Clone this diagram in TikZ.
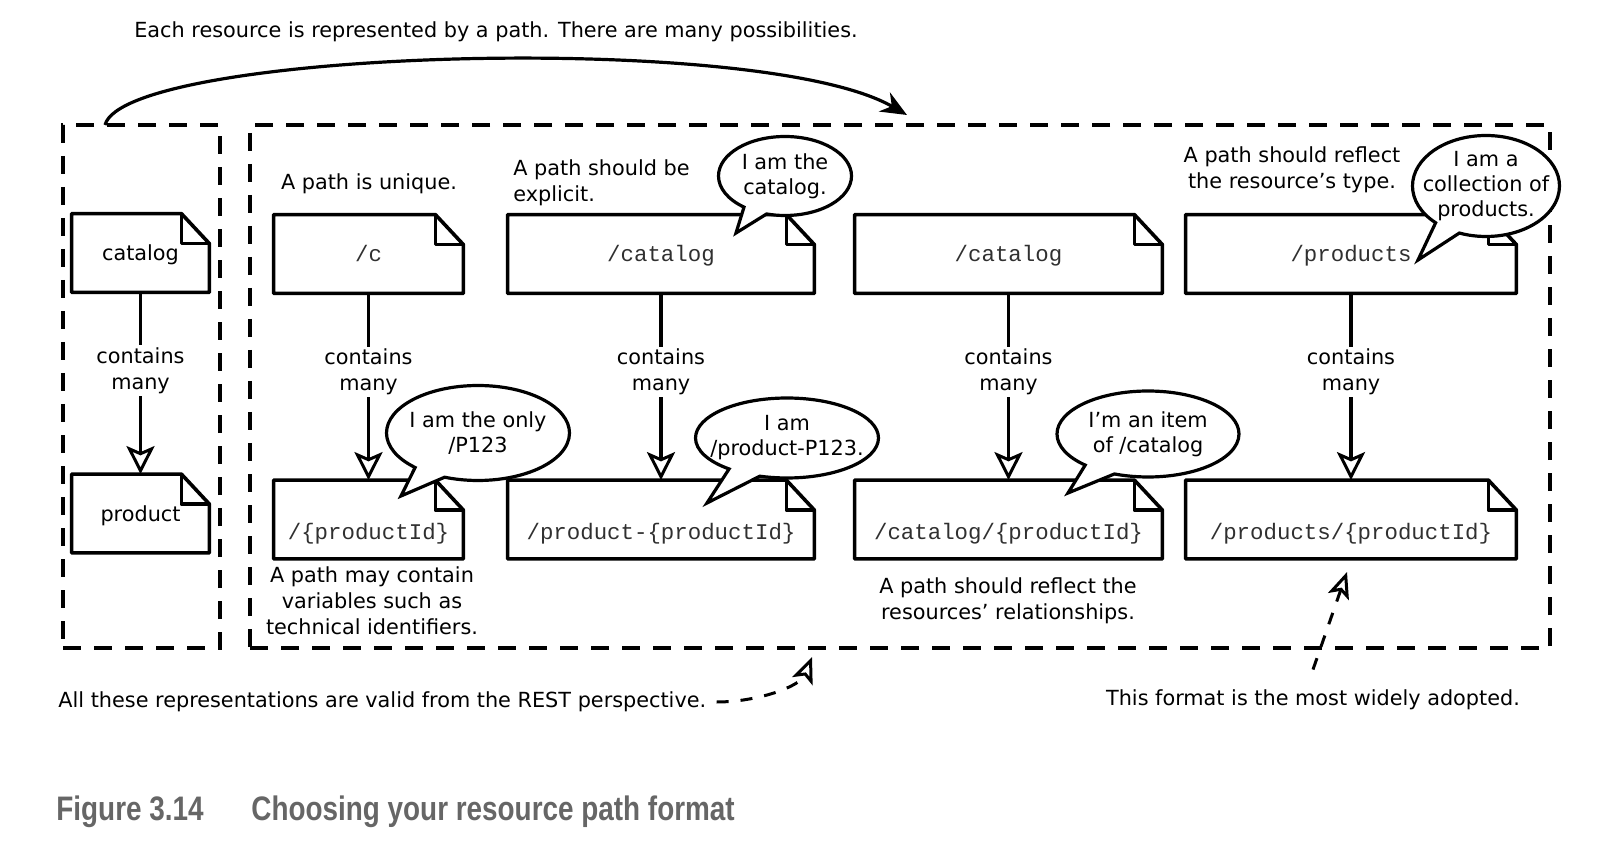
\documentclass[tikz,border=0pt]{standalone}
\usepackage{fontspec}
\setmainfont{DejaVu Sans}
\newfontfamily\urifont{Liberation Mono}
\newfontfamily\capfont[FakeStretch=0.82]{Liberation Sans}
\usetikzlibrary{arrows.meta}
\usetikzlibrary{shapes.callouts}
\definecolor{urigray}{HTML}{303030}
\definecolor{capgray}{HTML}{666666}

\begin{document}
\begin{tikzpicture}[x=0.5pt,y=-0.5pt,
  note/.style={font=\fontsize{10.4}{13}\selectfont, align=center, inner sep=1pt},
  doc/.style={minimum height=39pt, inner sep=0pt, text height=10pt, text depth=2pt},
  doclow/.style={doc, text height=22pt},
  uri/.style={font=\urifont\fontsize{11.2}{13}\selectfont, text=urigray},
  docline/.style={line width=1.8pt, line join=round},
  frame/.style={draw, line width=1.7pt, dash pattern=on 9pt off 6.5pt, minimum height=261.5pt, inner sep=0pt, outer sep=0pt},
  many/.style={line width=1.6pt, -{Stealth[open, length=14pt, width=14pt, inset=3pt, line width=1.5pt]}},
  bubble/.style={ellipse callout, draw, fill=white, line width=1.6pt, font=\fontsize{10.4}{12.5}\selectfont, align=center, inner xsep=-6pt, inner ysep=0pt, callout pointer arc=22},
  hint/.style={line width=1.5pt, dash pattern=on 6pt off 6pt, -{Stealth[open, length=13pt, width=11pt, inset=3pt, line width=1.5pt]}},
  bigarc/.style={line width=1.6pt, -{Stealth[length=13pt, width=11pt]}},
  caption/.style={anchor=base west, inner sep=0pt, font=\capfont\bfseries\fontsize{17}{20}\selectfont, text=capgray},
]
  \useasboundingbox (0,0) rectangle (1602,850);

  \node[note] (heading) at (496,32) {Each resource is represented by a path. There are many possibilities.};

  \node[frame, minimum width=78.5pt] (leftframe) at (141.5,386.5) {};
  \node[frame, minimum width=650pt] (rightframe) at (900,386.5) {};

  \node[doc, note, minimum width=68.5pt] (cat) at (140.5,253) {catalog};
  \node[doc, note, minimum width=68.5pt] (prod) at (140.5,513.5) {product};

  \node[doc, uri, minimum width=94.5pt] (c1) at (368.5,254) {/c};
  \node[doc, uri, minimum width=153pt] (c2) at (661,254) {/catalog};
  \node[doc, uri, minimum width=153.5pt] (c3) at (1008.5,254) {/catalog};
  \node[doc, uri, minimum width=165pt] (c4) at (1351,254) {/products};

  \node[doclow, uri, minimum width=94.5pt] (p1) at (368.5,519.5) {/\{productId\}};
  \node[doclow, uri, minimum width=153pt] (p2) at (661,519.5) {/product-\{productId\}};
  \node[doclow, uri, minimum width=153.5pt] (p3) at (1008.5,519.5) {/catalog/\{productId\}};
  \node[doclow, uri, minimum width=165pt] (p4) at (1351,519.5) {/products/\{productId\}};

  \foreach \d in {cat,prod,c1,c2,c3,c4,p1,p2,p3,p4}{
    \draw[docline] (\d.north west) -- ([xshift=-14pt]\d.north east) -- ([yshift=-15pt]\d.north east) -- (\d.south east) -- (\d.south west) -- cycle;
    \draw[docline] ([xshift=-14pt]\d.north east) |- ([yshift=-15pt]\d.north east);
  }

  \draw[many] (cat) -- node[note, fill=white, pos=0.43] (m0) {contains\\many} (prod);
  \draw[many] (c1) -- node[note, fill=white, pos=0.42] (m1) {contains\\many} (p1);
  \draw[many] (c2) -- node[note, fill=white, pos=0.42] (m2) {contains\\many} (p2);
  \draw[many] (c3) -- node[note, fill=white, pos=0.42] (m3) {contains\\many} (p3);
  \draw[many] (c4) -- node[note, fill=white, pos=0.42] (m4) {contains\\many} (p4);

  \node[note] (unique) at (369,184) {A path is unique.};
  \node[note, anchor=west, align=left] (explicit) at (511,183) {A path should be\\explicit.};
  \node[note] (typehint) at (1292,170) {A path should reflect\\the resource's type.};
  \node[note] (variables) at (372,601) {A path may contain\\variables such as\\technical identifiers.};
  \node[note] (relations) at (1008,601) {A path should reflect the\\resources' relationships.};

  \node[bubble, minimum width=66.5pt, minimum height=39.5pt, callout absolute pointer={(736,233)}] (b1) at (785,176) {I am the\\catalog.};
  \node[bubble, minimum width=73.5pt, minimum height=50.5pt, callout absolute pointer={(1418,260)}] (b2) at (1486,186) {I am a\\collection of\\products.};
  \node[bubble, minimum width=91.5pt, minimum height=47.5pt, callout absolute pointer={(401,496)}] (b3) at (478,433) {I am the only\\/P123};
  \node[bubble, minimum width=90pt, minimum height=40pt, callout absolute pointer={(707,503)}] (b4) at (787,438) {I am\\/product-P123.};
  \node[bubble, minimum width=91pt, minimum height=43pt, callout absolute pointer={(1068,493)}] (b5) at (1148,434) {I'm an item\\of /catalog};

  \draw[bigarc] ([xshift=21pt]leftframe.north west) .. controls (125,50) and (760,30) .. ([xshift=328.5pt,yshift=5pt]rightframe.north west);

  \node[note, anchor=west] (alltext) at (56,702) {All these representations are valid from the REST perspective.};
  \coordinate (validtip) at (812,657);
  \draw[hint] ([xshift=4pt]alltext.east) .. controls +(40,0) and +(-12,30) .. (validtip);

  \node[note] (adopted) at (1313,700) {This format is the most widely adopted.};
  \coordinate (adoptedtip) at (1347,572);
  \draw[hint] ([yshift=9pt]adopted.north) -- (adoptedtip);

  \node[caption] (figno) at (56,820) {Figure 3.14};
  \node[caption] (figtitle) at (251,820) {Choosing your resource path format};
\end{tikzpicture}
\end{document}
